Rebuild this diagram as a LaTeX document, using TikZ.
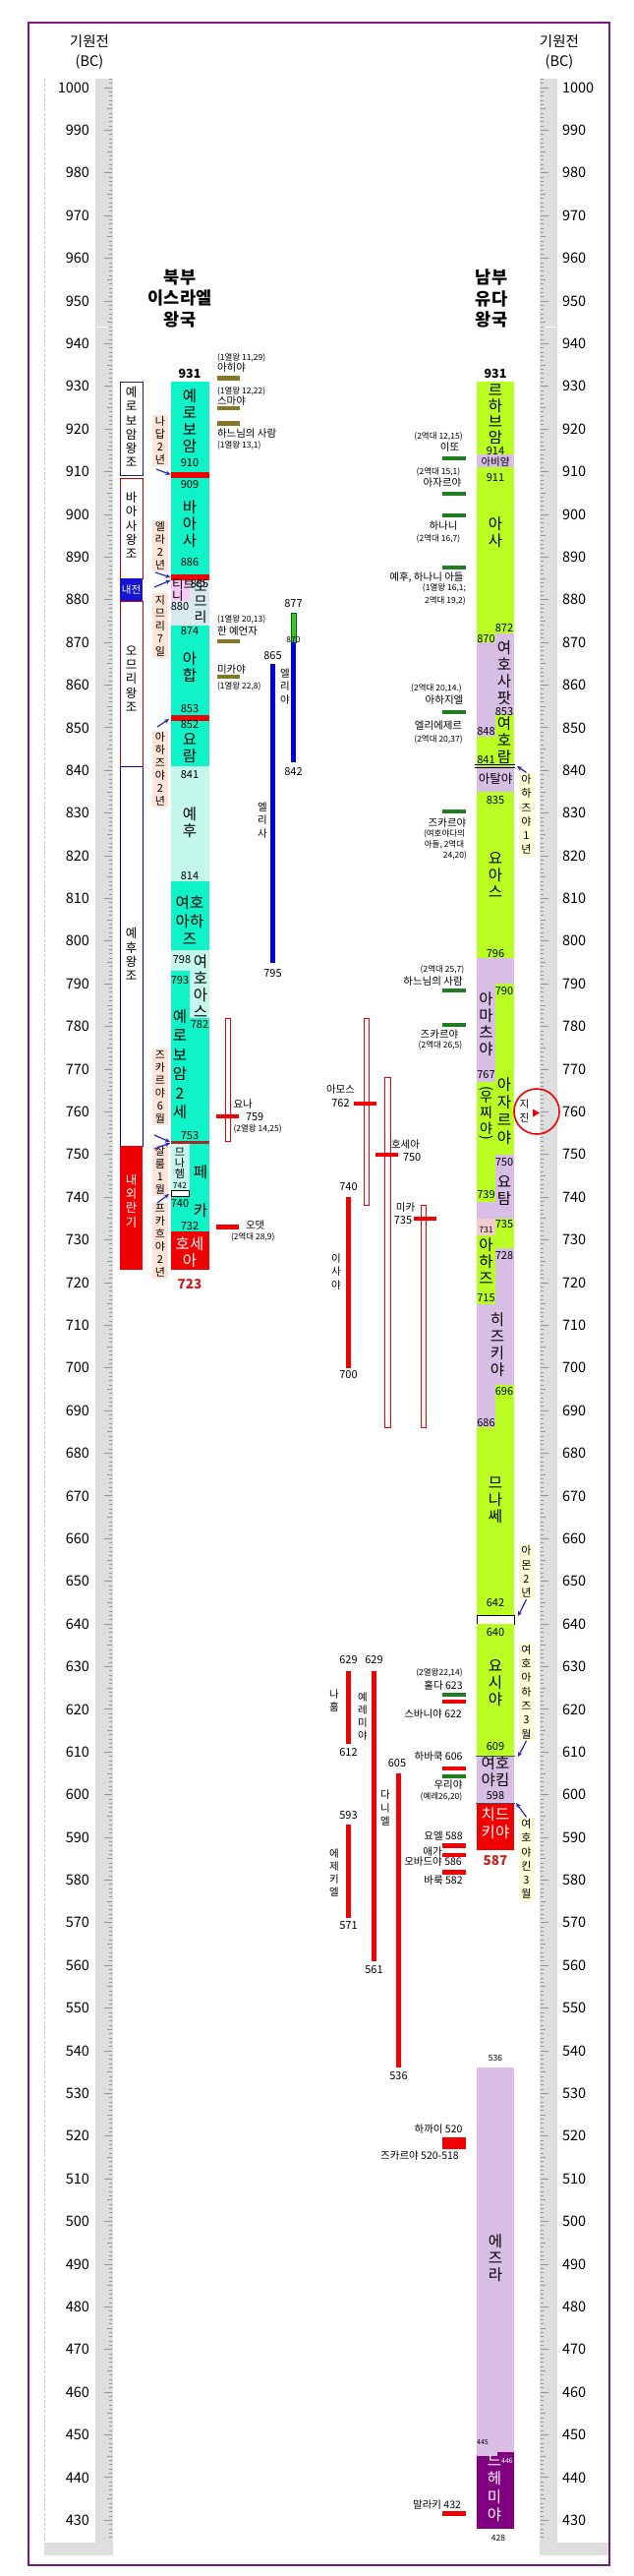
\documentclass[tikz,border=0pt]{standalone}
\usepackage{fontspec}
\usepackage{graphicx}
\setmainfont{Noto Sans CJK KR}
\usetikzlibrary{arrows.meta}
\definecolor{frameC}{RGB}{120,25,130}
\definecolor{rulerC}{RGB}{222,222,222}
\definecolor{tickC}{RGB}{150,150,150}
\definecolor{aquaC}{RGB}{16,242,200}
\definecolor{lightaquaC}{RGB}{196,248,236}
\definecolor{omriC}{RGB}{214,234,240}
\definecolor{tibniC}{RGB}{248,200,248}
\definecolor{judahC}{RGB}{186,255,36}
\definecolor{thistleC}{RGB}{216,190,228}
\definecolor{redC}{RGB}{240,0,0}
\definecolor{darkredC}{RGB}{170,40,40}
\definecolor{nehC}{RGB}{128,0,128}
\definecolor{beigeC}{RGB}{252,228,214}
\definecolor{creamC}{RGB}{255,255,218}
\definecolor{prophC}{RGB}{30,125,30}
\definecolor{olvC}{RGB}{135,118,40}
\definecolor{elijahC}{RGB}{50,200,50}
\definecolor{blueC}{RGB}{0,0,230}
\definecolor{arrowC}{RGB}{40,40,180}
\definecolor{pinkC}{RGB}{244,204,204}
\definecolor{civC}{RGB}{20,20,210}
\definecolor{navyC}{RGB}{30,30,130}
\definecolor{numRedC}{RGB}{200,30,30}
\begin{document}
\begin{tikzpicture}[x=1pt,y=-1pt,
  every node/.style={inner sep=0pt,outer sep=0pt},
  kn/.style={font=\fontsize{15.5}{17}\selectfont, align=center},
  nm/.style={font=\fontsize{11}{11}\selectfont},
  nms/.style={font=\fontsize{8.5}{9}\selectfont},
  lab/.style={font=\fontsize{10.5}{12}\selectfont},
  vlab/.style={font=\fontsize{10.5}{13.2}\selectfont, align=center},
  cit/.style={font=\fontsize{8.5}{9}\selectfont},
  dyn/.style={font=\fontsize{12.5}{14.3}\selectfont, align=center},
  lblN/.style={fill=beigeC, font=\fontsize{11}{13}\selectfont, align=center, inner xsep=1.5pt, inner ysep=2pt, minimum width=16pt},
  lblS/.style={fill=creamC, font=\fontsize{11}{14.3}\selectfont, align=center, inner xsep=1.5pt, inner ysep=2pt, minimum width=16pt},
  arr/.style={draw=arrowC, line width=1.2pt, -{Stealth[length=5pt,width=4.5pt]}},
  rl/.style={font=\fontsize{14.5}{15}\selectfont},
  ttl/.style={font=\bfseries\fontsize{17.5}{21.5}\selectfont, align=center},
  hdr/.style={font=\fontsize{14.5}{20}\selectfont, align=center},
  pbar/.style={fill=prophC},
  obar/.style={fill=olvC},
  rbar/.style={fill=redC},
  hollow/.style={draw=redC, line width=0.8pt, fill=white},
]
\useasboundingbox (0,0) rectangle (645,2619);
\fill[white] (0,0) rectangle (645,2619);

% ---------------- rulers ----------------
\fill[rulerC] (97,80) rectangle (115,2598);
\fill[rulerC] (45,2585) rectangle (115,2598);
\fill[rulerC] (549,80) rectangle (567,2598);
\fill[rulerC] (549,2585) rectangle (619,2598);
\fill[white] (97,331.5) rectangle (115,333);
\fill[white] (549,331.5) rectangle (567,333);
\draw[gray!45, densely dashed, line width=0.5pt] (45,80) -- (45,2585);
\foreach \t in {426,...,1002}{
  \pgfmathsetmacro{\ty}{89+(1000-\t)*4.339}
  \pgfmathsetmacro{\tl}{ifthenelse(mod(\t,10)==0,8,ifthenelse(mod(\t,5)==0,5,3))}
  \draw[tickC, line width=0.8pt] ({114-\tl},\ty) -- (114,\ty);
  \draw[tickC, line width=0.8pt] (550,\ty) -- ({550+\tl},\ty);
}
\foreach \t in {430,440,...,1000}{
  \pgfmathsetmacro{\ty}{89+(1000-\t)*4.339}
  \node[rl, anchor=east] (L\t) at (91,\ty) {\t};
  \node[rl, anchor=west] (R\t) at (572,\ty) {\t};
}
\node[hdr] (hdrL) at (91,53) {기원전\\(BC)};
\node[hdr] (hdrR) at (569,53) {기원전\\(BC)};

% ---------------- titles ----------------
\node[ttl] (titleN) at (183,303.5) {북부\\이스라엘\\왕국};
\node[ttl] (titleS) at (500,303.5) {남부\\유다\\왕국};

% ---------------- north kings ----------------
\fill[aquaC] (174,388.4) rectangle (212.5,479.5);
\fill[redC] (174,480) rectangle (212.5,486);
\fill[aquaC] (174,486) rectangle (212.5,583.6);
\fill[redC] (174,584) rectangle (212.5,590);
\fill[omriC] (174,590) rectangle (212.5,635.7);
\fill[tibniC] (174,590) rectangle (192.5,611);
\fill[aquaC] (174,635.7) rectangle (212.5,726.8);
\filldraw[fill=redC, draw=darkredC, line width=0.6pt] (174,727) rectangle (212.5,733);
\fill[aquaC] (174,733) rectangle (212.5,778.9);
\fill[lightaquaC] (174,778.9) rectangle (212.5,896.1);
\fill[aquaC] (174,896.1) rectangle (212.5,965.5);
\fill[lightaquaC] (174,965.5) rectangle (212.5,1035);
\fill[aquaC] (174,987.2) rectangle (193.2,1035);
\fill[aquaC] (174,1035) rectangle (212.5,1160.8);
\fill[darkredC] (174,1160) rectangle (212.5,1163);
\fill[lightaquaC] (174,1163) rectangle (193.2,1210);
\fill[aquaC] (193.2,1163) rectangle (212.5,1251.8);
\draw[black, fill=white, line width=0.7pt] (174.5,1210) rectangle (192.5,1216.5);
\fill[aquaC] (174,1217) rectangle (193.2,1251.8);
\fill[redC] (174,1251.8) rectangle (212.5,1290.9);

\node[nm, font=\bfseries\fontsize{12.5}{13}\selectfont] (n931) at (193,380) {931};
\node[kn] (kJero) at (193,428) {예\\로\\보\\암};
\node[nm] (n910) at (193,471) {910};
\node[nm] (n909) at (193,493) {909};
\node[kn] (kBaasha) at (193,533) {바\\아\\사};
\node[nm] (n886) at (193,572) {886};
\node[nm] (n885) at (203,594) {885};
\node[font=\fontsize{12.5}{12}\selectfont, align=left, anchor=west] (kTibni) at (175,600) {티브\\니};
\node[nm] (n880) at (183,617) {880};
\node[kn, font=\fontsize{14}{15.5}\selectfont] (kOmri) at (204,612) {오\\므\\리};
\node[nm] (n874) at (193,642) {874};
\node[kn] (kAhab) at (193,678) {아\\합};
\node[nm] (n853) at (193,721) {853};
\node[nm] (n852) at (193,737) {852};
\node[kn] (kJoram) at (193,761) {요\\람};
\node[nm] (n841) at (193,788) {841};
\node[kn] (kJehu) at (193,836) {예\\후};
\node[nm] (n814) at (193,891) {814};
\node[kn, font=\fontsize{15.5}{18.5}\selectfont] (kJehoahaz) at (193,936) {여호\\아하\\즈};
\node[nm] (n798) at (185,976) {798};
\node[nm] (n793) at (183,997) {793};
\node[kn] (kJehoash) at (204,1003) {여\\호\\아\\스};
\node[nm] (n782) at (203,1042) {782};
\node[kn, font=\fontsize{15.5}{19.5}\selectfont] (kJero2) at (183,1082) {예\\로\\보\\암\\2\\세};
\node[nm] (n753) at (193,1155) {753};
\node[font=\fontsize{11}{10.8}\selectfont, align=center] (kMenahem) at (183,1183) {므\\나\\헴};
\node[nms] (n742) at (183,1205) {742};
\node[nm] (n740) at (183,1224) {740};
\node[kn] (kPekah1) at (204,1192) {페};
\node[kn] (kPekah2) at (204,1231) {카};
\node[nm] (n732) at (193,1247) {732};
\node[kn, text=white] (kHoshea) at (193,1273) {호세\\아};
\node[font=\bfseries\fontsize{13.5}{14}\selectfont, text=numRedC] (n723) at (193,1306) {723};

% ---------------- dynasties ----------------
\draw[navyC, line width=0.8pt, fill=white] (122,388.4) rectangle (145,483.8);
\draw[redC!80!black, line width=0.8pt, fill=white] (122,486) rectangle (145,587.9);
\fill[civC] (122,587.9) rectangle (145,611);
\draw[redC!80!black, line width=0.8pt, fill=white] (122,611) rectangle (145,778.9);
\draw[blue!70!black, line width=0.8pt, fill=white] (122,778.9) rectangle (145,1165);
\fill[redC] (122,1165) rectangle (145,1291);
\node[dyn] (dJero) at (133.5,434) {예\\로\\보\\암\\왕\\조};
\node[dyn] (dBaasha) at (133.5,534) {바\\아\\사\\왕\\조};
\node[font=\fontsize{10.5}{11}\selectfont, text=white] (dCivil) at (133.5,600) {내전};
\node[dyn] (dOmri) at (133.5,690) {오\\므\\리\\왕\\조};
\node[dyn] (dJehu) at (133.5,970) {예\\후\\왕\\조};
\node[dyn, text=white] (dTurmoil) at (133.5,1221) {내\\외\\란\\기};

% ---------------- north side labels ----------------
\node[lblN] (lNadab) at (163,448) {나\\답\\2\\년};
\node[lblN] (lElah) at (163,555) {엘\\라\\2\\년};
\node[lblN] (lZimri) at (163,636) {지\\므\\리\\7\\일};
\node[lblN] (lAhaz2) at (163,782) {아\\하\\즈\\야\\2\\년};
\node[lblN] (lZech) at (163,1105) {즈\\카\\르\\야\\6\\월};
\node[lblN] (lShallum) at (163,1190) {살\\룸\\1\\월};
\node[lblN] (lPekahiah) at (163,1261) {프\\카\\흐\\야\\2\\년};

\coordinate (aN1s) at (159,477); \coordinate (aN1e) at (173.5,482.5);
\coordinate (aN2s) at (158,582); \coordinate (aN2e) at (173.5,587);
\coordinate (aN3s) at (157,597); \coordinate (aN3e) at (173.5,590);
\coordinate (aN4s) at (160,739); \coordinate (aN4e) at (172,731);
\coordinate (aN5s) at (157,1154); \coordinate (aN5e) at (173,1161);
\coordinate (aN6s) at (157,1168); \coordinate (aN6e) at (173,1162);
\coordinate (aN7s) at (160,1223); \coordinate (aN7e) at (172,1214);
\draw[arr] (aN1s) -- (aN1e);
\draw[arr] (aN2s) -- (aN2e);
\draw[arr] (aN3s) -- (aN3e);
\draw[arr] (aN4s) -- (aN4e);
\draw[arr] (aN5s) -- (aN5e);
\draw[arr] (aN6s) -- (aN6e);
\draw[arr] (aN7s) -- (aN7e);

% ---------------- north prophets ----------------
\fill[obar] (221,382) rectangle (244,386.5);
\fill[obar] (221,412.5) rectangle (244,417);
\fill[obar] (221,428) rectangle (244,432.5);
\fill[obar] (221,649.5) rectangle (244,654);
\fill[obar] (221,685.5) rectangle (244,690);
\node[cit, anchor=west] (cAhijah) at (221,364) {(1열왕 11,29)};
\node[lab, anchor=west] (pAhijah) at (221,374) {아히야};
\node[cit, anchor=west] (cShemaiah) at (221,398) {(1열왕 12,22)};
\node[lab, anchor=west] (pShemaiah) at (221,408) {스마야};
\node[lab, anchor=west] (pManGod) at (221,441) {하느님의 사람};
\node[cit, anchor=west] (cManGod) at (221,453) {(1열왕 13,1)};
\node[cit, anchor=west] (cProphet) at (221,630) {(1열왕 20,13)};
\node[lab, anchor=west] (pProphet) at (221,642) {한 예언자};
\node[lab, anchor=west] (pMicaiah) at (221,681) {미카야};
\node[cit, anchor=west] (cMicaiah) at (221,698) {(1열왕 22,8)};

\filldraw[fill=elijahC, draw=green!40!black, line width=0.4pt] (296,622.7) rectangle (301,653.1);
\fill[blueC] (296,653.1) rectangle (301,774.6);
\node[nm] (e877) at (298.5,614) {877};
\node[nms] (e870) at (298.5,650) {870};
\node[nm] (e842) at (298.5,785) {842};
\node[vlab] (pElijah) at (290,698) {엘\\리\\야};
\fill[blueC] (275,674.8) rectangle (280,978.5);
\node[nm] (s865) at (277.5,667) {865};
\node[vlab] (pElisha) at (267,834) {엘\\리\\사};
\node[nm] (s795) at (277.5,990) {795};

\draw[hollow] (229,1035) rectangle (234,1160.8);
\fill[rbar] (220,1132.5) rectangle (243,1137);
\node[lab, anchor=west] (pJonah) at (237.5,1123) {요나};
\node[nm, anchor=west] (jonah759) at (250,1136) {759};
\node[cit, anchor=west] (cJonah) at (237.5,1148) {(2열왕 14,25)};
\fill[rbar] (220,1245.3) rectangle (243,1249.7);
\node[lab, anchor=west] (pOded) at (250,1246) {오뎃};
\node[cit, anchor=west] (cOded) at (235,1258) {(2역대 28,9)};

% ---------------- writing prophets ----------------
\draw[hollow] (370,1035) rectangle (375,1225.8);
\fill[rbar] (360,1119.5) rectangle (383,1124);
\node[lab] (pAmos) at (346.5,1108) {아모스};
\node[nm] (amos762) at (346.5,1122) {762};
\draw[hollow] (391,1095.7) rectangle (397,1451.4);
\fill[rbar] (382,1171.6) rectangle (405,1176);
\node[lab, anchor=west] (pHosea) at (398,1164) {호세아};
\node[nm, anchor=west] (hosea750) at (410,1177) {750};
\draw[hollow] (428,1225.8) rectangle (433,1451.4);
\fill[rbar] (421,1236.6) rectangle (444,1241);
\node[lab] (pMicah) at (412.5,1228) {미카};
\node[nm] (micah735) at (410,1241) {735};
\fill[rbar] (352,1217.1) rectangle (357,1390.7);
\node[nm] (isa740) at (354.5,1207) {740};
\node[vlab] (pIsaiah) at (342,1293) {이\\사\\야};
\node[nm] (isa700) at (354.5,1398) {700};
\fill[rbar] (352,1698.8) rectangle (357,1772.5);
\node[nm] (nah629) at (354.5,1688) {629};
\node[vlab] (pNahum) at (340,1729) {나\\훔};
\node[nm] (nah612) at (354.5,1782) {612};
\fill[rbar] (378,1698.8) rectangle (383,1993.8);
\node[nm] (jer629) at (380.5,1688) {629};
\node[vlab] (pJeremiah) at (369,1745) {예\\레\\미\\야};
\node[nm] (jer561) at (380.5,2003) {561};
\fill[rbar] (403,1802.9) rectangle (408,2102.3);
\node[nm] (dan605) at (404,1793) {605};
\node[vlab] (pDaniel) at (392,1838) {다\\니\\엘};
\node[nm] (dan536) at (405.5,2111) {536};
\fill[rbar] (352,1855) rectangle (357,1950.4);
\node[nm] (eze593) at (354.5,1846) {593};
\node[vlab] (pEzekiel) at (340,1904) {에\\제\\키\\엘};
\node[nm] (eze571) at (354.5,1958) {571};

% ---------------- south prophets ----------------
\fill[pbar] (450,463.8) rectangle (474,468.2);
\fill[pbar] (450,499.8) rectangle (474,504.2);
\fill[pbar] (450,521.8) rectangle (474,526.2);
\fill[pbar] (450,574.8) rectangle (474,579.2);
\fill[pbar] (450,721.8) rectangle (474,726.2);
\fill[pbar] (450,822.8) rectangle (474,827.2);
\fill[pbar] (450,1004.8) rectangle (474,1009.2);
\fill[pbar] (450,1039.8) rectangle (474,1044.2);
\fill[pbar] (450,1721) rectangle (474,1725);
\fill[rbar] (450,1727.5) rectangle (474,1731.5);
\fill[rbar] (450,1796) rectangle (474,1800);
\fill[pbar] (450,1803.5) rectangle (474,1807.5);
\fill[rbar] (450,1874) rectangle (474,1878.5);
\node[lab] (pLament) at (440,1883) {애가};
\fill[rbar] (450,1883.5) rectangle (474,1888);
\fill[rbar] (450,1901) rectangle (474,1905.5);
\fill[rbar] (450,2173) rectangle (474,2185);
\fill[rbar] (450,2553) rectangle (474,2557.5);

\node[cit] (cIddo) at (446,444) {(2역대 12,15)};
\node[lab] (pIddo) at (457.5,455) {이또};
\node[cit] (cAzariah) at (446,480) {(2역대 15,1)};
\node[lab] (pAzariah) at (450,491) {아자르야};
\node[lab] (pHanani) at (451,535) {하나니};
\node[cit] (cHanani) at (446,548) {(2역대 16,7)};
\node[lab] (pJehuH) at (434,587) {예후, 하나니 아들};
\node[cit] (cJehuH1) at (452,598) {(1열왕 16,1;};
\node[cit] (cJehuH2) at (453,611) {2역대 19,2)};
\node[cit] (cJahaziel) at (444,700) {(2역대 20,14.)};
\node[lab] (pJahaziel) at (452,712) {아하지엘};
\node[lab] (pEliezer) at (446,738) {엘리에제르};
\node[cit] (cEliezer) at (446,752) {(2역대 20,37)};
\node[lab] (pZechJ) at (455,837) {즈카르야};
\node[cit] (cZechJ1) at (452,848) {(여호야다의};
\node[cit] (cZechJ2) at (452,859) {아들, 2역대};
\node[cit] (cZechJ3) at (463,870) {24,20)};
\node[cit] (cManGodS) at (450,986) {(2역대 25,7)};
\node[lab] (pManGodS) at (440.5,998) {하느님의 사람};
\node[lab] (pZechU) at (447,1052) {즈카르야};
\node[cit] (cZechU) at (448,1063) {(2역대 26,5)};
\node[cit] (cHuldah) at (447,1701) {(2열왕22,14)};
\node[lab] (pHuldah) at (451,1713) {훌다 623};
\node[lab] (pZeph) at (440.5,1743) {스바니야 622};
\node[lab] (pHab) at (446,1786) {하바쿡 606};
\node[lab] (pUriah) at (456,1815) {우리야};
\node[cit] (cUriah) at (449,1827) {(예레26,20)};
\node[lab] (pJoel) at (451,1866) {요엘 588};
\node[lab] (pObad) at (440.5,1893) {오바드야 586};
\node[lab] (pBaruch) at (451,1912) {바룩 582};
\node[lab] (pHaggai) at (446,2165) {하까이 520};
\node[lab] (pZechP) at (427,2192) {즈카르야 520-518};
\node[lab] (pMalachi) at (444.5,2547) {말라키 432};

% ---------------- south kings ----------------
\fill[judahC] (485,388.4) rectangle (523,462.2);
\fill[thistleC] (485,462.2) rectangle (523,475.2);
\fill[judahC] (485,475.2) rectangle (504,653.1);
\fill[judahC] (504,475.2) rectangle (523,644.4);
\fill[thistleC] (504,644.4) rectangle (523,726.8);
\fill[thistleC] (485,653.1) rectangle (504,748.5);
\fill[judahC] (504,726.8) rectangle (523,778.9);
\fill[judahC] (485,748.5) rectangle (504,778.9);
\fill[thistleC] (485,778.9) rectangle (523,805);
\fill[judahC] (485,805) rectangle (523,974.2);
\fill[thistleC] (485,974.2) rectangle (504,1100);
\fill[thistleC] (504,974.2) rectangle (523,1000.2);
\fill[judahC] (504,1000.2) rectangle (523,1173.8);
\fill[judahC] (485,1100) rectangle (504,1221.5);
\fill[thistleC] (504,1173.8) rectangle (523,1238.8);
\fill[thistleC] (485,1221.5) rectangle (504,1238.8);
\fill[pinkC] (485,1238.8) rectangle (504,1256.2);
\fill[judahC] (485,1256.2) rectangle (504,1325.6);
\fill[judahC] (504,1238.8) rectangle (523,1269.2);
\fill[thistleC] (504,1269.2) rectangle (523,1408.1);
\fill[thistleC] (485,1325.6) rectangle (504,1451.4);
\fill[judahC] (504,1408.1) rectangle (523,1642.4);
\fill[judahC] (485,1451.4) rectangle (504,1642.4);
\draw[black, fill=white, line width=0.8pt] (485,1642.4) rectangle (523,1651);
\fill[judahC] (485,1651) rectangle (523,1785.5);
\fill[thistleC] (485,1785.5) rectangle (523,1833.3);
\fill[redC] (485,1833.3) rectangle (523,1881);
\draw[black, line width=0.6pt] (483,777.6) -- (524,777.6) (483,780.2) -- (524,780.2);
\draw[black!70, line width=1.2pt] (484,1785.5) -- (524,1785.5);
\draw[black!70, line width=1.2pt] (484,1833.3) -- (524,1833.3);
\fill[thistleC] (485,2102.3) rectangle (523,2497.1);
\fill[nehC] (485,2497.1) rectangle (523,2570.9);
\fill[nehC] (506,2492.8) rectangle (523,2497.1);

\node[nm, font=\bfseries\fontsize{12.5}{13}\selectfont] (s931) at (504,380) {931};
\node[kn, font=\fontsize{15.5}{16}\selectfont] (kRehoboam) at (504,421) {르\\하\\브\\암};
\node[nm] (s914) at (504,459) {914};
\node[font=\fontsize{10.5}{11}\selectfont] (kAbijam) at (504,469.5) {아비얌};
\node[nm] (s911) at (504,486) {911};
\node[kn] (kAsa) at (504,541) {아\\사};
\node[nm] (s872) at (513,639) {872};
\node[nm] (s870) at (494.5,650) {870};
\node[kn] (kJehoshaphat) at (513,684) {여\\호\\사\\팟};
\node[nm] (s853) at (513,724) {853};
\node[nm] (s848) at (494.5,744) {848};
\node[kn] (kJehoram) at (513,753) {여\\호\\람};
\node[nm] (s841) at (494.5,773) {841};
\node[font=\fontsize{12.5}{13}\selectfont] (kAthaliah) at (504,792) {아탈야};
\node[nm] (s835) at (504,814) {835};
\node[kn] (kJoash) at (504,890) {요\\아\\스};
\node[nm] (s796) at (504,970) {796};
\node[nm] (s790) at (513,1008) {790};
\node[kn] (kAmaziah) at (494.5,1041) {아\\마\\츠\\야};
\node[nm] (s767) at (494.5,1093) {767};
\node[font=\fontsize{14}{16}\selectfont, align=center] (kUzziah) at (494.5,1133) {\rotatebox[origin=c]{-90}{(}\\[-7pt]우\\찌\\야\\[-7pt]\rotatebox[origin=c]{-90}{)}};
\node[kn, font=\fontsize{15.5}{18}\selectfont] (kAzariah) at (513,1130) {아\\자\\르\\야};
\node[nm] (s750) at (513,1182) {750};
\node[kn] (kJotham) at (513,1211) {요\\탐};
\node[nm] (s739) at (494.5,1215) {739};
\node[nms] (s731) at (494.5,1250) {731};
\node[nm] (s735) at (513,1245) {735};
\node[kn] (kAhaz) at (494.5,1282) {아\\하\\즈};
\node[nm] (s728) at (513,1277) {728};
\node[nm] (s715) at (494.5,1320) {715};
\node[kn] (kHezekiah) at (506,1367) {히\\즈\\키\\야};
\node[nm] (s696) at (513,1415) {696};
\node[nm] (s686) at (494.5,1447) {686};
\node[kn] (kManasseh) at (504,1525) {므\\나\\쎄};
\node[nm] (s642) at (504,1630) {642};
\node[nm] (s640) at (504,1660) {640};
\node[kn] (kJosiah) at (504,1711) {요\\시\\야};
\node[nm] (s609) at (504,1776) {609};
\node[kn] (kJehoiakim) at (504,1801) {여호\\야킴};
\node[nm] (s598) at (504,1826) {598};
\node[kn, text=white, font=\fontsize{15.5}{18}\selectfont] (kZedekiah) at (504,1854) {치드\\키야};
\node[font=\bfseries\fontsize{13.5}{14}\selectfont, text=numRedC] (s587) at (504,1892) {587};
\node[nms] (s536) at (504,2092) {536};
\node[kn] (kEzra) at (504,2296) {에\\즈\\라};
\node[font=\fontsize{7}{7}\selectfont] (s445) at (491,2483) {445};
\node[font=\fontsize{7}{7}\selectfont, text=white] (s446) at (516,2502) {446};
\node[kn, text=white, font=\fontsize{15.5}{18.5}\selectfont] (kNehemiah) at (503,2530) {느\\헤\\미\\야};
\node[nms] (s428) at (507,2580) {428};

% ---------------- south side labels ----------------
\node[lblS] (lAhaziah1) at (535.5,828) {아\\하\\즈\\야\\1\\년};
\node[lblS] (lAmon) at (535.5,1598) {아\\몬\\2\\년};
\node[lblS] (lJehoahaz3) at (535.5,1720) {여\\호\\아\\하\\즈\\3\\월};
\node[lblS] (lJehoiachin3) at (535.5,1890) {여\\호\\야\\킨\\3\\월};
\coordinate (aS1e) at (526,779);
\coordinate (aS2e) at (527,1643);
\coordinate (aS3e) at (527,1786);
\coordinate (aS4e) at (525,1833);
\draw[arr] (lAhaziah1.north) -- (aS1e);
\draw[arr] (lAmon.south) -- (aS2e);
\draw[arr] (lJehoahaz3.south) -- (aS3e);
\draw[arr] (lJehoiachin3.north) -- (aS4e);

% earthquake
\draw[redC, line width=1.6pt] (546,1130) circle[radius=23pt];
\node[font=\fontsize{10.5}{14}\selectfont, align=center] (quake) at (533.5,1129) {지\\진};
\fill[redC] (542,1127.5) -- (549,1131.5) -- (542,1135.5) -- cycle;

% frame
\draw[frameC, line width=2.6pt] (29,23) rectangle (620,2608);
\end{tikzpicture}
\end{document}
